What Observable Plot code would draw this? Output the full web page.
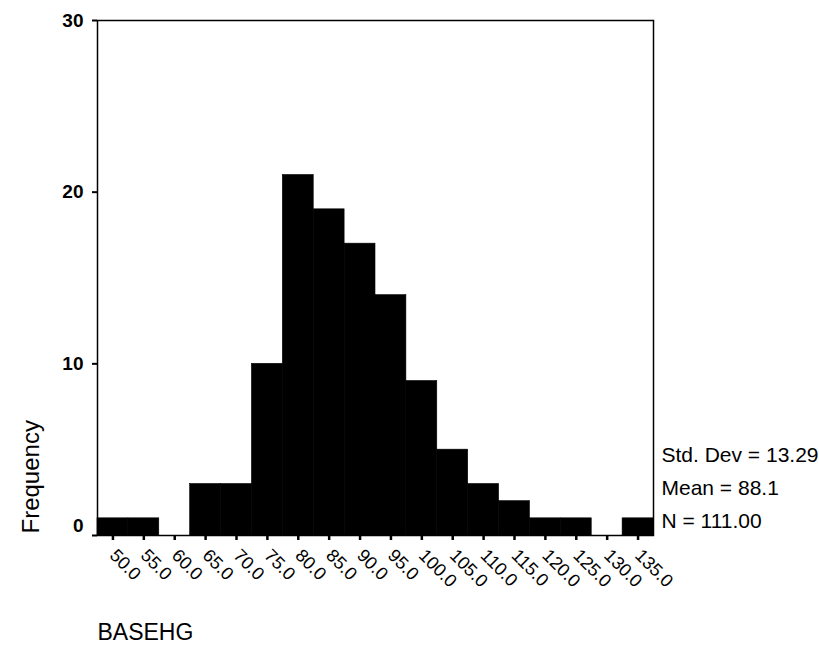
<!DOCTYPE html>
<html>
<head>
<meta charset="utf-8">
<script src="https://cdn.jsdelivr.net/npm/d3@7"></script>
<script src="https://cdn.jsdelivr.net/npm/@observablehq/plot@0.6"></script>
<style>
  html, body { margin: 0; padding: 0; background: #fff; }
  #chart svg { display: block; }
</style>
</head>
<body>
<div id="chart"></div>
<script>
// Bin centers of the histogram (BASEHG), bin width 5
const binCenters = [50, 55, 60, 65, 70, 75, 80, 85, 90, 95, 100, 105, 110, 115, 120, 125, 130, 135];
// Frequency for each bin
const frequencies = [1, 1, 0, 3, 3, 10, 21, 19, 17, 14, 9, 5, 3, 2, 1, 1, 0, 1];
const binWidth = 5;
const yTicks = [0, 10, 20, 30];
const variableName = "BASEHG";
const yLabel = "Frequency";
const stdDev = "13.29";
const mean = "88.1";
const nCases = "111.00";

const bins = binCenters.map((c, i) => ({center: c, count: frequencies[i]}));
const font = "'Liberation Sans', Arial, Helvetica, sans-serif";

const chart = Plot.plot({
  width: 819,
  height: 645,
  marginLeft: 97,
  marginRight: 166,
  marginTop: 20,
  marginBottom: 110,
  style: {fontFamily: font, fontSize: "18px", color: "black", background: "white"},
  x: {domain: [binCenters[0] - binWidth / 2, binCenters[binCenters.length - 1] + binWidth / 2]},
  y: {domain: [0, 30]},
  marks: [
    Plot.rectY(bins, {
      x1: d => d.center - binWidth / 2,
      x2: d => d.center + binWidth / 2,
      y: "count",
      fill: "black",
      stroke: "black",
      strokeWidth: 0.6
    }),
    Plot.frame({stroke: "black", strokeWidth: 1.5}),
    Plot.axisX({
      ticks: binCenters,
      tickFormat: d => d.toFixed(1),
      tickRotate: 45,
      tickSize: 5,
      tickPadding: 12,
      strokeWidth: 2.5,
      fontSize: 18,
      label: null
    }),
    Plot.axisY({
      ticks: yTicks,
      tickFormat: d => (d === 0 ? "" : d),
      tickSize: 5,
      tickPadding: 9,
      strokeWidth: 2,
      fontSize: 19,
      fontWeight: "bold",
      label: null
    }),
    Plot.axisY({
      ticks: [yTicks[0]],
      tickSize: 0,
      tickPadding: 14,
      dy: -10,
      fontSize: 19,
      fontWeight: "bold",
      label: null
    }),
    Plot.text([yLabel], {
      text: d => d,
      frameAnchor: "bottom-left",
      rotate: -90,
      textAnchor: "start",
      lineAnchor: "middle",
      dx: -66,
      dy: -2,
      fontSize: 24,
      fill: "black"
    }),
    Plot.text([variableName], {
      text: d => d,
      frameAnchor: "bottom-left",
      textAnchor: "start",
      lineAnchor: "middle",
      dx: 0,
      dy: 97,
      fontSize: 23,
      fill: "black"
    }),
    Plot.text([`Std. Dev = ${stdDev}\nMean = ${mean}\nN = ${nCases}`], {
      text: d => d,
      frameAnchor: "bottom-right",
      textAnchor: "start",
      lineAnchor: "middle",
      lineHeight: 1.57,
      dx: 8,
      dy: -51,
      fontSize: 21,
      fill: "black"
    })
  ]
});
document.getElementById("chart").appendChild(chart);
</script>
</body>
</html>
